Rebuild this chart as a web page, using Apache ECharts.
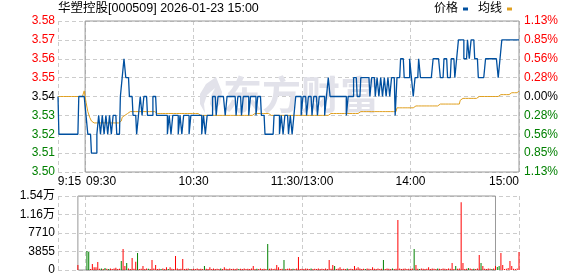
<!DOCTYPE html>
<html><head><meta charset="utf-8">
<script src="https://cdn.jsdelivr.net/npm/echarts@6/dist/echarts.min.js"></script>
<style>html,body{margin:0;padding:0;background:#fff}#c{width:578px;height:276px}</style>
</head><body><div id="c"></div>
<script>
const titleText = '华塑控股[000509] 2026-01-23 15:00';
const prevClose = 3.54;
const seriesNames = ['价格', '均线'];

// minute categories 09:15 .. 11:30, 13:01 .. 15:00
const categories = [];
(function () {
  function fmt(h, m) { return (h < 10 ? '0' : '') + h + ':' + (m < 10 ? '0' : '') + m; }
  for (let t = 9 * 60 + 15; t <= 11 * 60 + 30; t++) categories.push(fmt(Math.floor(t / 60), t % 60));
  for (let t = 13 * 60 + 1; t <= 15 * 60; t++) categories.push(fmt(Math.floor(t / 60), t % 60));
})();

const xTickIdx = [0, 15, 75, 135, 195, 255];
const xTickLabels = ['9:15', '09:30', '10:30', '11:30/13:00', '14:00', '15:00'];
const pctLabels = ['1.13%', '0.85%', '0.56%', '0.28%', '0.00%', '0.28%', '0.56%', '0.85%', '1.13%'];
const volLabels = ['0', '3855', '7710', '1.16万', '1.54万'];

const price = [
  3.54, 3.52, 3.52, 3.52, 3.52, 3.52, 3.52, 3.52, 3.52, 3.52,
  3.52, 3.52, 3.54, 3.54, 3.54, 3.54, 3.53, 3.52, 3.52, 3.51,
  3.51, 3.51, 3.52, 3.53, 3.52, 3.53, 3.52, 3.53, 3.52, 3.53,
  3.52, 3.53, 3.53, 3.52, 3.52, 3.54, 3.55, 3.56, 3.55, 3.55,
  3.54, 3.54, 3.53, 3.53, 3.52, 3.53, 3.54, 3.53, 3.54, 3.54,
  3.53, 3.53, 3.53, 3.54, 3.54, 3.53, 3.53, 3.53, 3.53, 3.53,
  3.53, 3.52, 3.53, 3.52, 3.53, 3.53, 3.53, 3.52, 3.53, 3.52,
  3.53, 3.53, 3.53, 3.52, 3.53, 3.53, 3.53, 3.53, 3.53, 3.53,
  3.52, 3.53, 3.52, 3.53, 3.53, 3.53, 3.54, 3.54, 3.53, 3.54,
  3.54, 3.54, 3.54, 3.53, 3.54, 3.54, 3.54, 3.54, 3.54, 3.53,
  3.54, 3.54, 3.53, 3.54, 3.54, 3.54, 3.53, 3.54, 3.54, 3.54,
  3.53, 3.54, 3.54, 3.53, 3.53, 3.52, 3.52, 3.52, 3.52, 3.52,
  3.53, 3.53, 3.53, 3.52, 3.53, 3.52, 3.53, 3.53, 3.52, 3.53,
  3.52, 3.53, 3.54, 3.54, 3.54, 3.53, 3.54, 3.54, 3.53, 3.54,
  3.54, 3.53, 3.54, 3.54, 3.53, 3.54, 3.54, 3.54, 3.53, 3.54,
  3.55, 3.54, 3.54, 3.54, 3.54, 3.54, 3.54, 3.54, 3.54, 3.54,
  3.53, 3.54, 3.54, 3.54, 3.55, 3.55, 3.54, 3.54, 3.55, 3.55,
  3.55, 3.55, 3.55, 3.54, 3.55, 3.55, 3.54, 3.55, 3.54, 3.55,
  3.54, 3.55, 3.54, 3.55, 3.54, 3.55, 3.55, 3.53, 3.55, 3.55,
  3.56, 3.56, 3.55, 3.55, 3.55, 3.56, 3.55, 3.54, 3.55, 3.55,
  3.56, 3.55, 3.55, 3.55, 3.55, 3.55, 3.55, 3.55, 3.56, 3.56,
  3.56, 3.56, 3.55, 3.55, 3.56, 3.56, 3.55, 3.55, 3.56, 3.56,
  3.55, 3.56, 3.57, 3.57, 3.57, 3.56, 3.56, 3.57, 3.56, 3.57,
  3.57, 3.56, 3.56, 3.55, 3.55, 3.55, 3.55, 3.56, 3.56, 3.56,
  3.56, 3.56, 3.56, 3.56, 3.55, 3.56, 3.57, 3.57, 3.57, 3.57,
  3.57, 3.57, 3.57, 3.57, 3.57, 3.57
];

const avgPrice = [
  3.540, 3.540, 3.540, 3.540, 3.540, 3.540, 3.540, 3.540, 3.540, 3.540,
  3.540, 3.540, 3.540, 3.540, 3.540, 3.543, 3.537, 3.532, 3.529, 3.527,
  3.526, 3.526, 3.526, 3.526, 3.526, 3.526, 3.526, 3.526, 3.526, 3.526,
  3.526, 3.526, 3.526, 3.526, 3.526, 3.527, 3.529, 3.530, 3.531, 3.532,
  3.532, 3.532, 3.532, 3.532, 3.532, 3.532, 3.532, 3.532, 3.532, 3.532,
  3.532, 3.532, 3.532, 3.532, 3.532, 3.531, 3.531, 3.531, 3.531, 3.531,
  3.531, 3.531, 3.531, 3.531, 3.531, 3.531, 3.531, 3.531, 3.531, 3.531,
  3.531, 3.531, 3.531, 3.531, 3.531, 3.531, 3.531, 3.531, 3.531, 3.530,
  3.530, 3.530, 3.530, 3.530, 3.530, 3.530, 3.530, 3.530, 3.530, 3.530,
  3.530, 3.530, 3.530, 3.530, 3.530, 3.530, 3.530, 3.530, 3.530, 3.530,
  3.530, 3.530, 3.530, 3.530, 3.530, 3.530, 3.530, 3.530, 3.531, 3.531,
  3.531, 3.531, 3.531, 3.531, 3.531, 3.531, 3.531, 3.531, 3.530, 3.530,
  3.530, 3.530, 3.530, 3.530, 3.530, 3.530, 3.530, 3.530, 3.530, 3.530,
  3.530, 3.530, 3.530, 3.530, 3.530, 3.530, 3.530, 3.530, 3.530, 3.530,
  3.530, 3.530, 3.530, 3.530, 3.530, 3.530, 3.530, 3.530, 3.530, 3.530,
  3.530, 3.531, 3.531, 3.531, 3.531, 3.531, 3.531, 3.531, 3.531, 3.531,
  3.531, 3.531, 3.531, 3.531, 3.531, 3.531, 3.531, 3.532, 3.532, 3.532,
  3.532, 3.532, 3.532, 3.532, 3.532, 3.532, 3.532, 3.532, 3.532, 3.532,
  3.532, 3.532, 3.532, 3.532, 3.532, 3.532, 3.532, 3.532, 3.534, 3.534,
  3.534, 3.534, 3.534, 3.534, 3.534, 3.534, 3.534, 3.535, 3.535, 3.535,
  3.535, 3.535, 3.535, 3.535, 3.535, 3.535, 3.535, 3.535, 3.535, 3.535,
  3.535, 3.536, 3.536, 3.536, 3.536, 3.536, 3.536, 3.536, 3.536, 3.536,
  3.536, 3.536, 3.536, 3.538, 3.539, 3.539, 3.539, 3.539, 3.539, 3.539,
  3.539, 3.539, 3.539, 3.540, 3.540, 3.540, 3.540, 3.540, 3.540, 3.540,
  3.540, 3.540, 3.540, 3.540, 3.540, 3.541, 3.541, 3.541, 3.541, 3.541,
  3.542, 3.542, 3.542, 3.542, 3.542, 3.543
];

const volume = [
  0, 0, 0, 0, 0, 0, 0, 0, 0, 0,
  0, 1040, 0, 0, 0, 0, 3950, 3740, 200, 1250,
  560, 560, 1660, 250, 300, 200, 400, 250, 200, 300,
  200, 300, 450, 200, 250, 1870, 4370, 830, 1450, 300,
  200, 2500, 250, 1700, 3540, 200, 250, 830, 200, 300,
  250, 200, 2080, 300, 1040, 200, 250, 200, 300, 200,
  560, 200, 560, 250, 200, 2900, 300, 200, 250, 2290,
  200, 250, 300, 200, 200, 250, 200, 300, 200, 250,
  200, 830, 250, 200, 560, 200, 300, 200, 250, 200,
  300, 200, 560, 250, 200, 300, 200, 250, 200, 300,
  200, 250, 200, 300, 200, 250, 200, 300, 830, 200,
  250, 200, 300, 200, 250, 200, 5400, 250, 300, 200,
  250, 1040, 560, 200, 250, 2080, 200, 250, 300, 200,
  250, 200, 300, 2700, 200, 250, 200, 300, 250, 200,
  300, 200, 250, 200, 300, 200, 250, 200, 300, 200,
  2080, 250, 1040, 830, 200, 300, 560, 200, 250, 200,
  300, 200, 250, 200, 830, 300, 560, 300, 200, 250,
  200, 300, 250, 200, 560, 250, 200, 300, 200, 250,
  2080, 200, 300, 250, 200, 300, 200, 250, 10400, 300,
  200, 250, 300, 200, 250, 200, 300, 4370, 1040, 250,
  200, 300, 250, 200, 250, 560, 200, 300, 250, 200,
  300, 250, 200, 300, 250, 200, 300, 250, 1450, 200,
  830, 250, 300, 14100, 1450, 200, 250, 400, 300, 200,
  250, 200, 300, 3100, 1450, 830, 250, 200, 300, 250,
  200, 300, 830, 620, 830, 3540, 1040, 200, 250, 400,
  1870, 830, 250, 200, 300, 3740
];
// minutes whose volume bar is green (falling)
const greenMinutes = [16, 17, 24, 26, 28, 35, 38, 44, 50, 57, 61, 73, 81, 90, 100, 110, 116, 125, 130, 140,
  153, 160, 170, 180, 185, 197, 200, 210, 220, 227, 230, 234, 240, 243, 244];

const RED = '#ff0000', GREEN = '#008000', DARK = '#000000';
const BLUE = '#0050a0', GOLD = '#e0a020';
const gridDash = { color: '#cccccc', width: 1, type: [4, 3] };
const FONT = '"Liberation Sans", "Noto Sans CJK SC", sans-serif';
const greenSet = new Set(greenMinutes);

const chart = echarts.init(document.getElementById('c'), null, { renderer: 'canvas' });

function xLabelFormatter(v, i) {
  const k = xTickIdx.indexOf(i);
  if (k < 0) return '';
  if (k === 0) return '{a|' + xTickLabels[k] + '}';
  if (k === 1) return '{b|' + xTickLabels[k] + '}';
  if (k === xTickIdx.length - 1) return '{c|' + xTickLabels[k] + '}';
  return xTickLabels[k];
}

const option = {
  animation: false,
  textStyle: { fontFamily: FONT },
  title: {
    text: titleText, left: 58, top: 2, padding: 0,
    textStyle: { fontSize: 12.5, fontWeight: 'normal', color: '#000', fontFamily: FONT }
  },
  legend: {
    data: seriesNames, right: 66, top: 3, padding: 0, align: 'right',
    icon: 'rect', itemWidth: 5, itemHeight: 3, itemGap: 10, selectedMode: false,
    textStyle: { fontSize: 12, color: '#000', fontFamily: FONT }
  },
  graphic: [{
    type: 'polygon', z: 1, silent: true,
    shape: { points: [[216, 77], [206, 84], [200, 94], [200, 104], [205, 113], [204, 104], [207, 95], [215, 88], [211, 96], [210, 104], [214, 111], [220, 104], [222, 92]] },
    style: { fill: '#e2e2ea' }
  }, {
    type: 'text', left: 223, top: 75, z: 1, silent: true,
    style: { text: '东方财富', fontSize: 39, fontWeight: 'bold', fill: '#e2e2ea', fontFamily: '"Noto Sans CJK SC", sans-serif' }
  }],
  grid: [
    { left: 58, right: 59, top: 21, height: 151 },
    { left: 58, right: 59, top: 196, height: 74 }
  ],
  xAxis: [{
    type: 'category', gridIndex: 0, data: categories, boundaryGap: false,
    axisLine: { show: false }, axisTick: { show: false },
    axisLabel: {
      interval: (i) => xTickIdx.indexOf(i) >= 0, formatter: xLabelFormatter, margin: 4,
      fontSize: 12, color: '#000', fontFamily: FONT,
      rich: {
        a: { fontSize: 12, color: '#000', padding: [0, 0, 0, 23] },
        b: { fontSize: 12, color: '#000', padding: [0, 0, 0, 32] },
        c: { fontSize: 12, color: '#000', padding: [0, 30, 0, 0] }
      }
    },
    splitLine: { show: true, interval: (i) => xTickIdx.indexOf(i) >= 0, lineStyle: gridDash }
  }, {
    type: 'category', gridIndex: 1, data: categories, boundaryGap: false,
    axisLine: { show: false }, axisTick: { show: false }, axisLabel: { show: false },
    splitLine: { show: true, interval: (i) => xTickIdx.indexOf(i) >= 0, lineStyle: gridDash }
  }],
  yAxis: [{
    type: 'value', gridIndex: 0, min: 3.50, max: 3.58, interval: 0.01, position: 'left',
    axisLine: { show: false }, axisTick: { show: false },
    axisLabel: {
      margin: 3, fontSize: 12, fontFamily: FONT,
      formatter: (v) => Number(v).toFixed(2),
      color: (v) => { const d = Math.round((Number(v) - prevClose) * 100); return d > 0 ? RED : (d < 0 ? GREEN : DARK); }
    },
    splitLine: { show: true, lineStyle: gridDash }
  }, {
    type: 'value', gridIndex: 0, min: 3.50, max: 3.58, interval: 0.01, position: 'right',
    axisLine: { show: false }, axisTick: { show: false },
    axisLabel: {
      margin: 5, fontSize: 12, fontFamily: FONT,
      formatter: (v, i) => pctLabels[i],
      color: (v) => { const d = Math.round((Number(v) - prevClose) * 100); return d > 0 ? RED : (d < 0 ? GREEN : DARK); }
    },
    splitLine: { show: false }
  }, {
    type: 'value', gridIndex: 1, min: 0, max: 15420, interval: 3855,
    axisLine: { show: false }, axisTick: { show: false },
    axisLabel: { margin: 3, fontSize: 12, color: '#000', fontFamily: FONT, formatter: (v, i) => volLabels[i] },
    splitLine: { show: true, lineStyle: gridDash }
  }],
  series: [{
    name: seriesNames[1], type: 'line', xAxisIndex: 0, yAxisIndex: 0, data: avgPrice,
    step: 'middle', showSymbol: false, symbol: 'none', z: 3,
    lineStyle: { color: GOLD, width: 1 }, itemStyle: { color: GOLD }
  }, {
    name: seriesNames[0], type: 'line', xAxisIndex: 0, yAxisIndex: 0, data: price,
    step: 'middle', showSymbol: false, symbol: 'none', z: 4,
    lineStyle: { color: BLUE, width: 1.3 }, itemStyle: { color: BLUE },
    markArea: {
      silent: true,
      itemStyle: { color: 'rgba(0,0,0,0)', borderColor: '#999', borderWidth: 1 },
      data: [[{ xAxis: categories[15], yAxis: 3.50 }, { xAxis: categories[255], yAxis: 3.58 }]]
    }
  }, {
    name: 'vol', type: 'bar', xAxisIndex: 1, yAxisIndex: 2, data: volume, barWidth: 1,
    itemStyle: { color: (p) => greenSet.has(p.dataIndex) ? GREEN : RED },
    markArea: {
      silent: true,
      itemStyle: { color: 'rgba(0,0,0,0)', borderColor: '#999', borderWidth: 1 },
      data: [[{ xAxis: categories[15], yAxis: 0 }, { xAxis: categories[255], yAxis: 15420 }]]
    }
  }]
};
chart.setOption(option);
</script>
</body></html>
